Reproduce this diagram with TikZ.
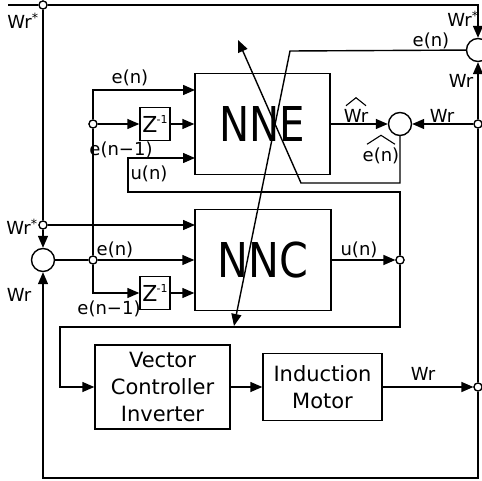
\documentclass[tikz,border=0pt]{standalone}
\usepackage{fontspec}
\usepackage{graphicx}
\setmainfont{DejaVu Sans}
\usetikzlibrary{arrows.meta}
\begin{document}
\begin{tikzpicture}[x=1pt,y=-1pt, line width=1.4pt,
  >={Triangle[length=12pt,width=10pt]},
  jn/.style={circle,draw,fill=white,inner sep=0pt,minimum size=8pt,line width=1.2pt},
  sumc/.style={circle,draw,fill=white,inner sep=0pt,minimum size=23pt},
  blk/.style={draw,fill=white,inner sep=0pt},
  lbl/.style={font=\fontsize{18}{20}\selectfont, inner sep=0pt},
  bigtxt/.style={font=\fontsize{48}{50}\selectfont},
  midtxt/.style={font=\fontsize{21}{27}\selectfont, align=center},
  zbox/.style={blk,minimum width=30pt,minimum height=33pt,font=\fontsize{22}{22}\selectfont},
  hatl/.style={line width=1.1pt}
]
\useasboundingbox (0,0) rectangle (482,481);

% blocks
\node[blk,minimum width=135pt,minimum height=101pt,bigtxt] (nne) at (262.5,124) {\scalebox{0.84}[1]{NNE}};
\node[blk,minimum width=136pt,minimum height=101pt,bigtxt] (nnc) at (263,260) {\scalebox{0.86}[1]{NNC}};
\node[zbox] (zE) at (155,124) {Z\kern-1pt\raisebox{9pt}{\fontsize{11}{11}\selectfont -1}};
\node[zbox] (zC) at (155,293) {Z\kern-1pt\raisebox{9pt}{\fontsize{11}{11}\selectfont -1}};
\node[blk,minimum width=135pt,minimum height=84pt,midtxt] (vec) at (162.5,387) {Vector\\Controller\\Inverter};
\node[blk,minimum width=119pt,minimum height=67pt,midtxt] (mot) at (322.5,387) {Induction\\Motor};

% junctions and summers
\node[jn] (jtl) at (43,5) {};
\node[jn] (jWs) at (43,225) {};
\node[sumc] (sumL) at (43,260) {};
\node[jn] (jEn) at (93,260) {};
\node[jn] (jL) at (93,124) {};
\node[jn] (jU) at (400,260) {};
\node[sumc] (sumE) at (400,124) {};
\node[sumc] (sumR) at (478,50) {};
\node[jn] (jR1) at (478,124) {};
\node[jn] (jR2) at (478,387) {};

% named points
\coordinate (start) at (8,5);
\coordinate (in1) at (195,90);
\coordinate (in3) at (195,158);
\coordinate (inC1) at (195,225);
\coordinate (tipE) at (238,40);
\coordinate (tipC) at (234,326);

% connectors
\draw (start) -- (jtl);
\draw[->] (jtl) -- (478,5) -- (sumR);
\draw (jtl) -- (jWs);
\draw[->] (jWs) -- (inC1);
\draw[->] (jWs) -- (sumL);
\draw[->] (jR2) -- (478,478) -- (43,478) -- (sumL);
\draw (sumL) -- (jEn);
\draw[->] (jEn) -- (nnc);
\draw[->] (jEn) |- (zC);
\draw[->] (zC) -- (zC -| nnc.west);
\draw (jEn) -- (jL);
\draw[->] (jL) |- (in1);
\draw[->] (jL) -- (zE);
\draw[->] (zE) -- (nne);
\draw[->] (jU) -- (400,192) -- (128,192) -- (128,158) -- (in3);
\draw[->] (nnc) -- (jU);
\draw[->] (jU) -- (400,327) -- (60,327) -- (60,387) -- (vec);
\draw[->] (vec) -- (mot);
\draw[->] (mot) -- (jR2);
\draw (jR2) -- (jR1);
\draw[->] (jR1) -- (sumR);
\draw[->] (jR1) -- (sumE);
\draw[->] (nne) -- (sumE);
\draw[->] (sumE) -- (400,183) -- (301,183) -- (tipE);
\draw[->] (sumR) -- (290,51) -- (tipC);

% redraw junctions on top
\foreach \n in {jtl,jWs,jEn,jL,jU,jR1,jR2}{\node[jn] at (\n) {};}

% labels
\node[lbl] (l1) at (23,21) {Wr\textsuperscript{*}};
\node[lbl] (l2) at (130,78) {e(n)};
\node[lbl] (l3) at (121,150) {e(n−1)};
\node[lbl] (l4) at (149,174) {u(n)};
\node[lbl] (l5) at (356,116) {Wr};
\draw[hatl] (l5.north) ++(-10,-3) -- ++(10,-8) -- ++(10,8);
\node[lbl] (l6) at (381,156) {e(n)};
\draw[hatl] (l6.north) ++(-14,-3) -- ++(14,-9) -- ++(14,9);
\node[lbl] (l7) at (442,116) {Wr};
\node[lbl] (l8) at (431,41) {e(n)};
\node[lbl] (l9) at (463,19) {Wr\textsuperscript{*}};
\node[lbl] (l10) at (461,81) {Wr};
\node[lbl] (l11) at (22,227) {Wr\textsuperscript{*}};
\node[lbl] (l12) at (115,250) {e(n)};
\node[lbl] (l13) at (19,295) {Wr};
\node[lbl] (l14) at (109,309) {e(n−1)};
\node[lbl] (l15) at (359,250) {u(n)};
\node[lbl] (l16) at (423,374) {Wr};
\end{tikzpicture}
\end{document}
